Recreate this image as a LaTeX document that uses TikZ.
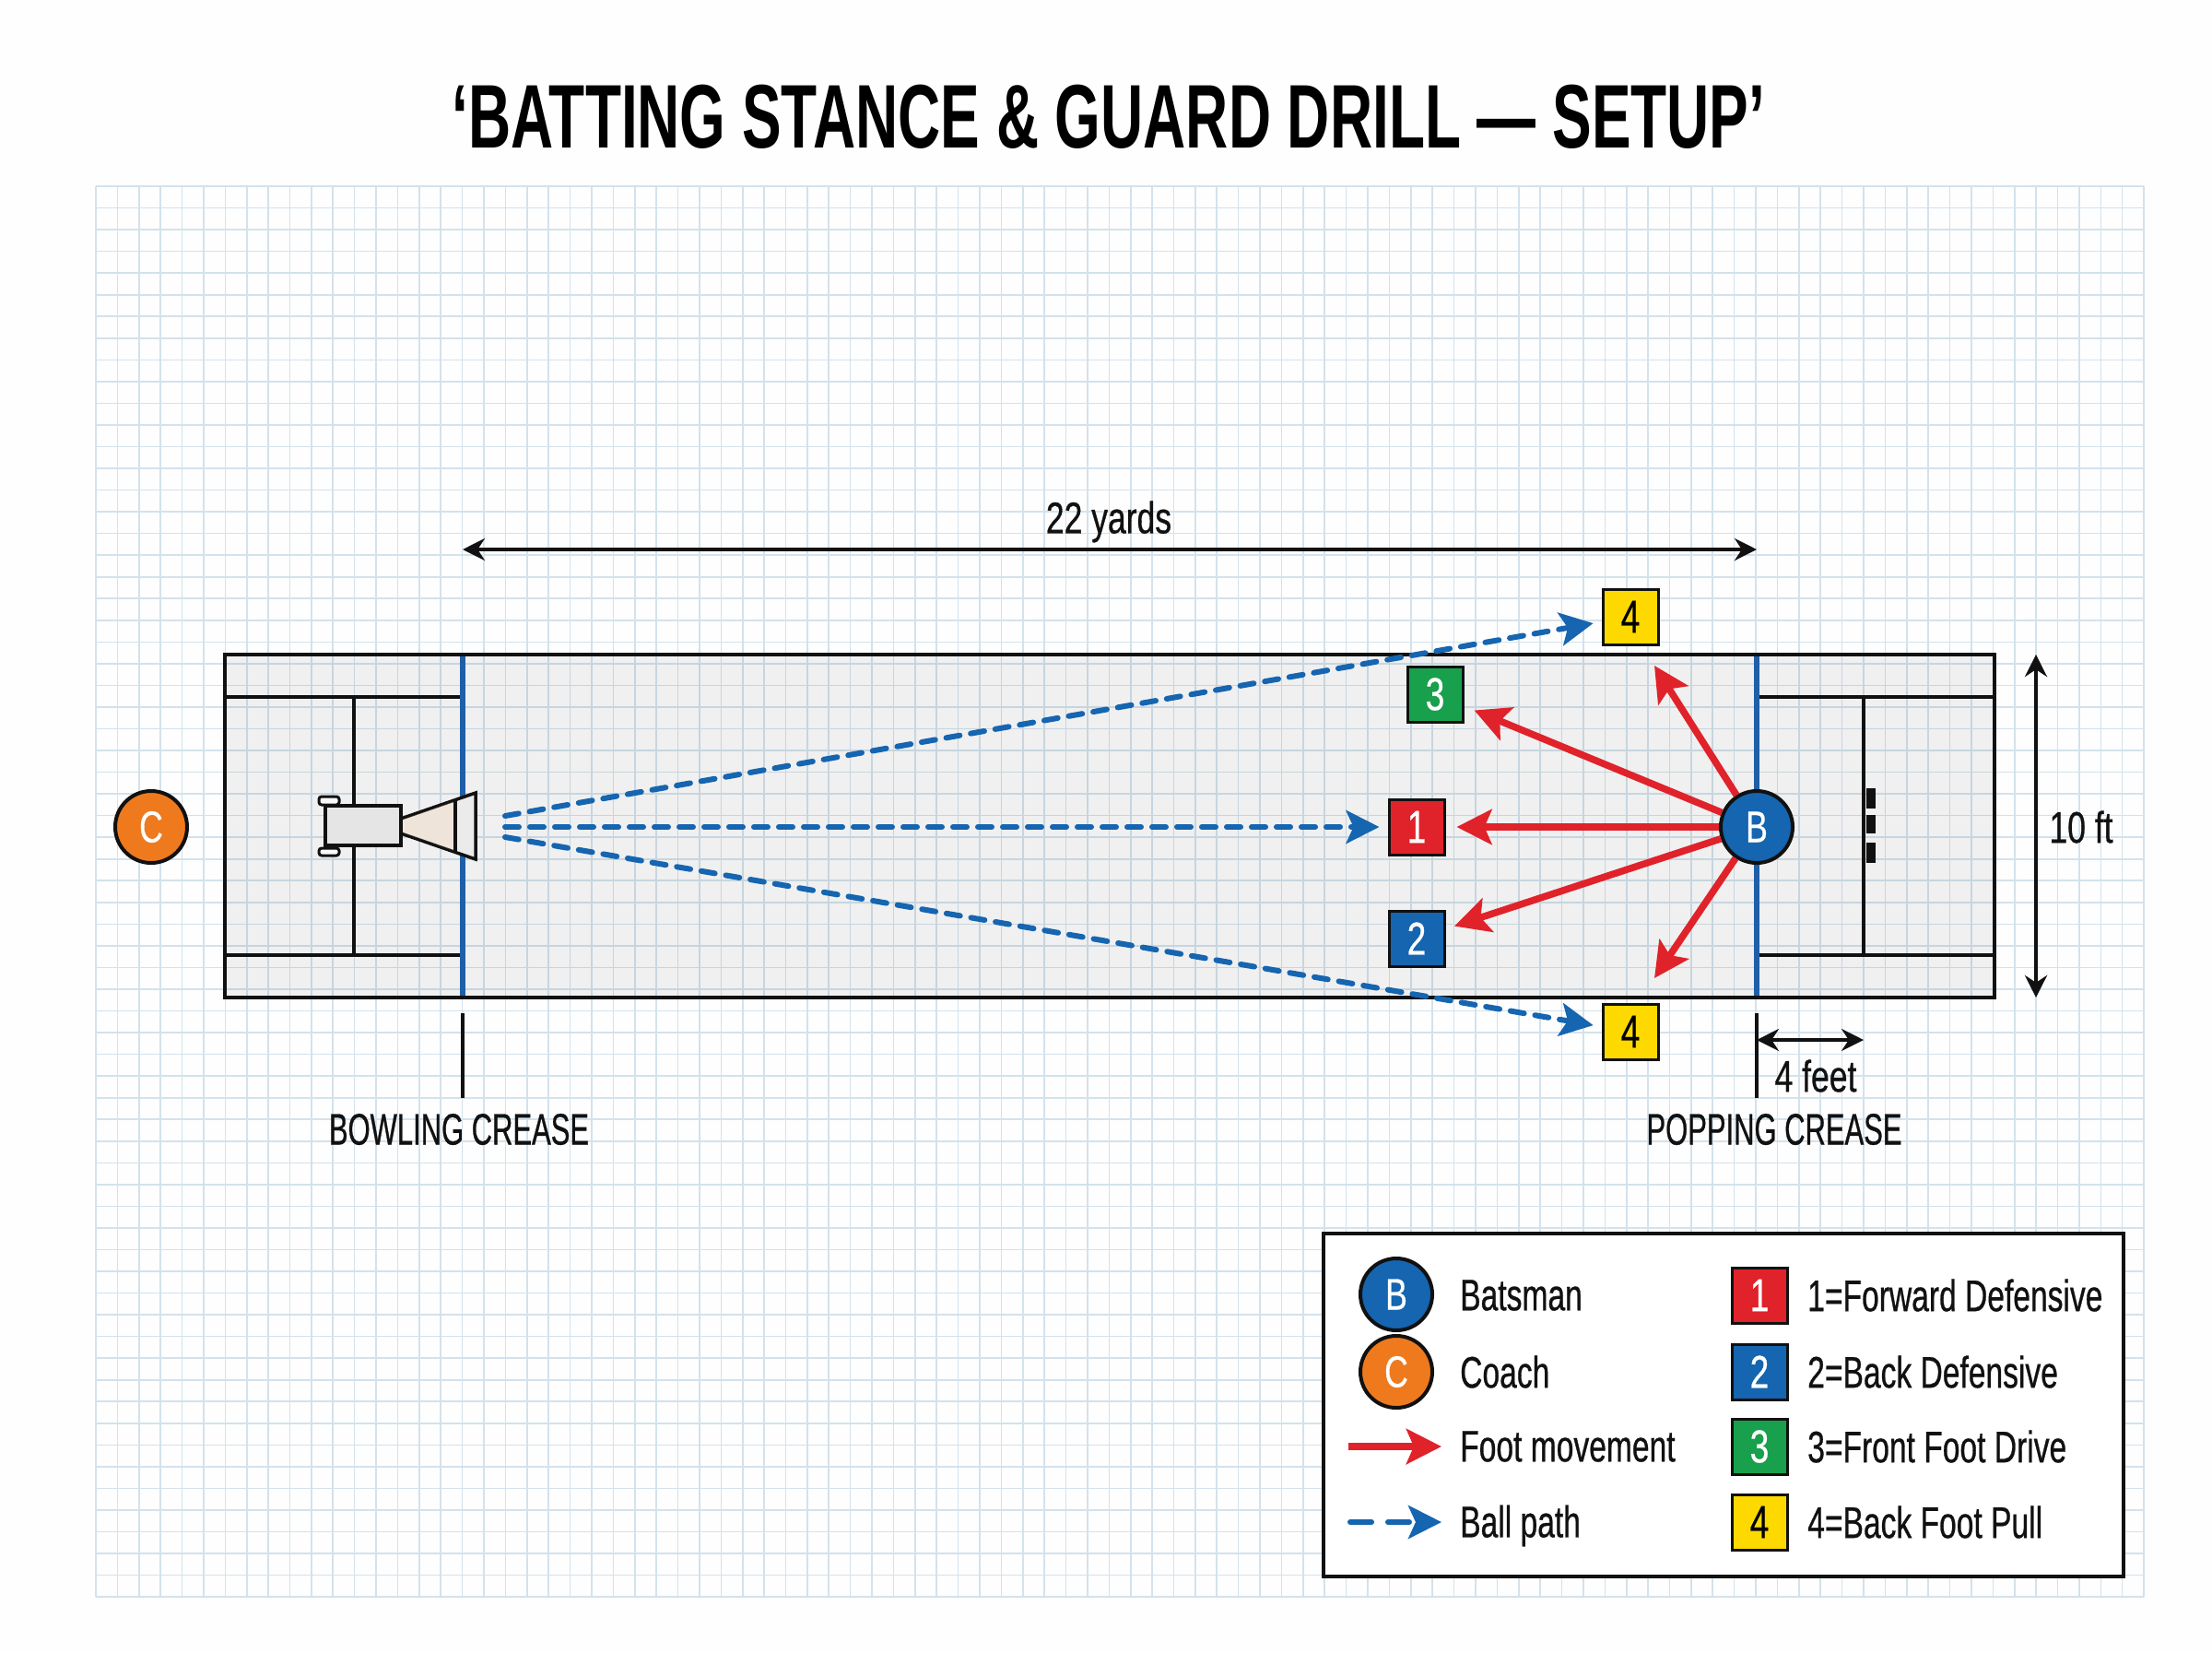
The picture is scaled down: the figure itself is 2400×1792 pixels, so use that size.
\documentclass[tikz,border=0pt]{standalone}
\usepackage{fontspec}
\usetikzlibrary{arrows.meta}
\setmainfont{Liberation Sans}
\newfontfamily\lblfont[FakeStretch=0.70,FakeBold=0.6]{Liberation Sans}
\newfontfamily\digfont[FakeStretch=0.74,FakeBold=0.6]{Liberation Sans}
\newfontfamily\capfont[FakeStretch=0.645,FakeBold=0.6]{Liberation Sans}
\newfontfamily\ttlfont[FakeStretch=0.652]{Liberation Sans}
\definecolor{gridc}{HTML}{D3E2EC}
\definecolor{bluec}{HTML}{1565B0}
\definecolor{creasec}{HTML}{1F5FA8}
\definecolor{redc}{HTML}{E0222B}
\definecolor{orangec}{HTML}{EF7A1E}
\definecolor{greenc}{HTML}{18A04C}
\definecolor{yellowc}{HTML}{FDD900}
\definecolor{inkc}{HTML}{111111}
\tikzset{
  gridline/.style={gridc,line width=1.6pt},
  pitchline/.style={inkc,line width=4.5pt},
  creaseline/.style={creasec,line width=5.5pt},
  player/.style={circle,draw=inkc,line width=4pt,minimum size=78pt,inner sep=0pt,text=white,font=\digfont\fontsize{48}{48}\selectfont},
  shotbox/.style={rectangle,draw=inkc,line width=3pt,minimum width=60pt,minimum height=60pt,inner sep=0pt,text=white,font=\digfont\fontsize{50}{50}\selectfont},
  foot/.style={redc,line width=7.5pt,-{Stealth[length=38pt,width=38pt,inset=8pt]}},
  ball/.style={bluec,line width=6pt,dash pattern=on 15pt off 12pt,line cap=round,-{Stealth[length=36pt,width=36pt,inset=8pt]}},
  dim/.style={inkc,line width=4pt,{Stealth[length=24pt,width=24pt]}-{Stealth[length=24pt,width=24pt]}},
  lbl/.style={text=inkc,inner sep=0pt,font=\digfont\fontsize{48}{48}\selectfont},
  caplbl/.style={text=inkc,inner sep=0pt,font=\capfont\fontsize{48}{48}\selectfont},
  leglbl/.style={text=inkc,inner sep=0pt,anchor=west,font=\lblfont\fontsize{48}{48}\selectfont}
}
\begin{document}
\begin{tikzpicture}[x=1pt,y=-1pt]
\useasboundingbox (0,0) rectangle (2400,1792);
\fill[white!99!gray] (0,0) rectangle (2400,1792);
% graph paper
\foreach \i in {0,...,95}{\pgfmathsetmacro{\gx}{104+\i*23.39}\draw[gridline] (\gx,202) -- (\gx,1732);}
\foreach \i in {0,...,65}{\pgfmathsetmacro{\gy}{202+\i*23.54}\draw[gridline] (104,\gy) -- (2326,\gy);}
% title
\node[text=black,inner sep=0pt,font=\ttlfont\bfseries\fontsize{98}{98}\selectfont] (title) at (1203,127) {‘BATTING STANCE \& GUARD DRILL — SETUP’};
% pitch
\fill[black,opacity=0.055] (244,710) rectangle (2164,1082);
\draw[pitchline] (244,756) -- (502,756);
\draw[pitchline] (244,1036) -- (502,1036);
\draw[pitchline] (384,756) -- (384,1036);
\draw[pitchline] (1906,756) -- (2164,756);
\draw[pitchline] (1906,1036) -- (2164,1036);
\draw[pitchline] (2022,756) -- (2022,1036);
\draw[creaseline] (502,710) -- (502,1082);
\draw[creaseline] (1906,710) -- (1906,1082);
\draw[pitchline] (244,710) rectangle (2164,1082);
% stumps
\fill[inkc] (2025,855) rectangle (2035,877);
\fill[inkc] (2025,884) rectangle (2035,904);
\fill[inkc] (2025,914) rectangle (2035,936);
% bowling machine
\draw[inkc,line width=3pt,fill=white!95!gray,rounded corners=3pt] (346,864) rectangle (368,873);
\draw[inkc,line width=3pt,fill=white!95!gray,rounded corners=3pt] (346,920) rectangle (368,928);
\draw[inkc,line width=3.5pt,fill=black!8] (435,888) -- (516,860) -- (516,932) -- (435,904) -- cycle;
\fill[orange!40!white,opacity=0.2] (436,889) -- (493,869) -- (493,923) -- (436,903) -- cycle;
\draw[inkc,line width=3.5pt] (494,868) -- (494,923);
\draw[inkc,line width=3.5pt,fill=black!10] (353,874) rectangle (435,917);
% players and boxes
\node[player,fill=orangec] (C) at (164,897) {C};
\node[player,fill=bluec] (B) at (1906,897) {B};
\node[shotbox,fill=redc] (s1) at (1537,897) {1};
\node[shotbox,fill=bluec] (s2) at (1537,1018) {2};
\node[shotbox,fill=greenc] (s3) at (1557,753) {3};
\node[shotbox,fill=yellowc,text=black] (s4a) at (1769,669) {4};
\node[shotbox,fill=yellowc,text=black] (s4b) at (1769,1119) {4};
% ball paths
\coordinate (r1) at (548,885);
\coordinate (r2) at (548,897);
\coordinate (r3) at (548,908);
\draw[ball,shorten >=9pt] (r1) -- (s4a);
\draw[ball,shorten >=9pt] (r2) -- (s1);
\draw[ball,shorten >=9pt] (r3) -- (s4b);
% foot movement
\coordinate (up) at (1795,722);
\coordinate (dn) at (1795,1061);
\draw[foot,shorten >=12pt] (B) -- (s1);
\draw[foot,shorten >=10pt] (B) -- (s2);
\draw[foot,shorten >=12pt] (B) -- (s3);
\draw[foot] (B) -- (up);
\draw[foot] (B) -- (dn);
% dimensions
\coordinate (d1) at (502,596); \coordinate (d2) at (1906,596);
\draw[dim] (d1) -- (d2);
\node[lbl] (yards) at (1203,566) {22 yards};
\coordinate (h1) at (2209,710); \coordinate (h2) at (2209,1082);
\draw[dim] (h1) -- (h2);
\node[lbl] (ft) at (2258,897) {10 ft};
\coordinate (f1) at (1906,1128); \coordinate (f2) at (2022,1128);
\draw[dim,line width=3.5pt] (f1) -- (f2);
\node[lbl] (feet) at (1970,1167) {4 feet};
\coordinate (t1) at (502,1099); \coordinate (t2) at (502,1191);
\draw[inkc,line width=3.5pt] (t1) -- (t2);
\coordinate (t3) at (1906,1099); \coordinate (t4) at (1906,1191);
\draw[inkc,line width=3.5pt] (t3) -- (t4);
\node[caplbl] (bc) at (498,1225) {BOWLING CREASE};
\node[caplbl] (pc) at (1925,1225) {POPPING CREASE};
% legend
\node[draw=inkc,line width=4pt,fill=white,minimum width=868pt,minimum height=372pt,inner sep=0pt] (legend) at (1870,1524) {};
\node[player,fill=bluec] (lB) at (1515,1404) {B};
\node[player,fill=orangec] (lC) at (1515,1488) {C};
\coordinate (la1) at (1463,1569); \coordinate (la2) at (1564,1569);
\draw[foot] (la1) -- (la2);
\coordinate (lb1) at (1465,1651); \coordinate (lb2) at (1564,1651);
\draw[ball,dash pattern=on 23pt off 18pt] (lb1) -- (lb2);
\node[leglbl] (t1a) at (1584,1405) {Batsman};
\node[leglbl] (t2a) at (1584,1488) {Coach};
\node[leglbl] (t3a) at (1584,1569) {Foot movement};
\node[leglbl] (t4a) at (1584,1655) {Ball path};
\node[shotbox,fill=redc] (l1) at (1909,1405) {1};
\node[shotbox,fill=bluec] (l2) at (1909,1488) {2};
\node[shotbox,fill=greenc] (l3) at (1909,1569) {3};
\node[shotbox,fill=yellowc,text=black] (l4) at (1909,1651) {4};
\node[leglbl] (t1b) at (1961,1405) {1=Forward Defensive};
\node[leglbl] (t2b) at (1961,1488) {2=Back Defensive};
\node[leglbl] (t3b) at (1961,1569) {3=Front Foot Drive};
\node[leglbl] (t4b) at (1961,1651) {4=Back Foot Pull};
\end{tikzpicture}
\end{document}
